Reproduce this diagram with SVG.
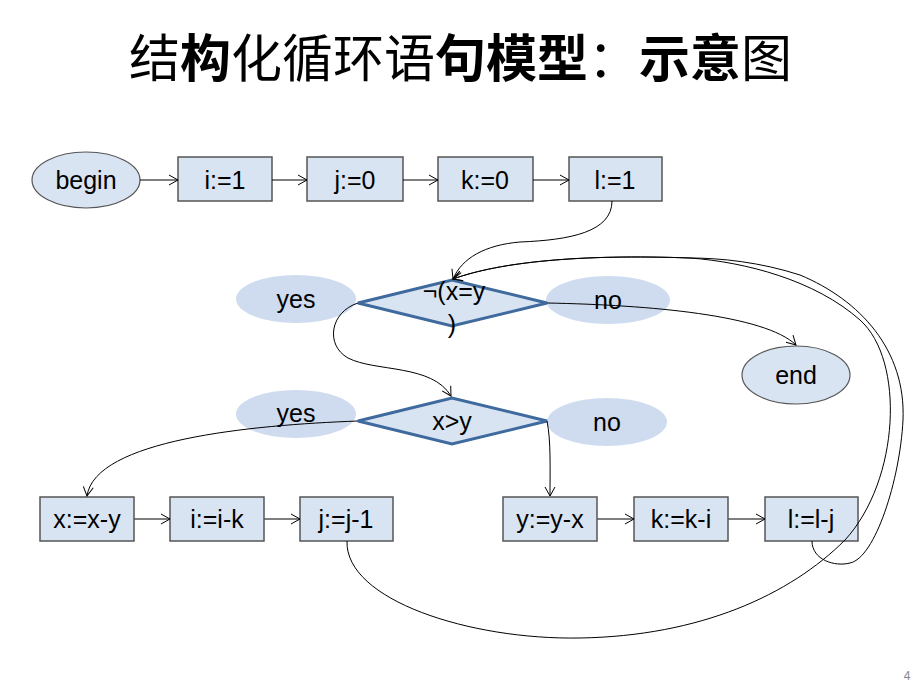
<svg xmlns="http://www.w3.org/2000/svg" width="920" height="690" viewBox="0 0 920 690">
<defs>
<marker id="ah" markerWidth="12" markerHeight="12" refX="10" refY="6" orient="auto" markerUnits="userSpaceOnUse">
<path d="M1,1 L10,6 L1,11" fill="none" stroke="#000" stroke-width="1"/>
</marker>
<style>
.box{fill:#d9e4f2;stroke:#555;stroke-width:1.5}
.el{fill:#d9e4f2;stroke:#555;stroke-width:1.2}
.lbl{fill:#cfdcef;stroke:none}
.dia{fill:#d9e4f2;stroke:#3e6a9e;stroke-width:3;stroke-linejoin:miter}
.t{font-family:"Liberation Sans","Noto Sans",sans-serif;font-size:25px;fill:#000;text-anchor:middle}
.c{fill:none;stroke:#000;stroke-width:1}
.ca{fill:none;stroke:#000;stroke-width:1;marker-end:url(#ah)}
.cg{fill:none;stroke:#555;stroke-width:1.5;marker-end:url(#ah)}
.title{font-family:"Noto Sans CJK SC","Liberation Sans",sans-serif;font-size:51px;fill:#000}
</style>
</defs>
<rect width="920" height="690" fill="#fff"/>
<text class="title" x="129" y="77">结<tspan font-weight="bold">构</tspan>化循环语<tspan font-weight="bold">句模型</tspan>：<tspan font-weight="bold">示意</tspan>图</text>

<g id="yes1"><ellipse class="lbl" cx="296" cy="299" rx="60" ry="24"/><text class="t" x="296" y="308">yes</text></g>
<g id="no1"><ellipse class="lbl" cx="608" cy="300" rx="62" ry="24"/><text class="t" x="608" y="309">no</text></g>
<g id="yes2"><ellipse class="lbl" cx="296" cy="414" rx="60" ry="24"/><text class="t" x="296" y="422">yes</text></g>
<g id="no2"><ellipse class="lbl" cx="607" cy="422" rx="60" ry="24"/><text class="t" x="607" y="431">no</text></g>

<g id="begin"><ellipse class="el" cx="86" cy="180" rx="54" ry="28"/><text class="t" x="86" y="189">begin</text></g>
<g id="n_i1"><rect class="box" x="178" y="157" width="94" height="44"/><text class="t" x="225" y="189">i:=1</text></g>
<g id="n_j0"><rect class="box" x="307" y="157" width="96" height="44"/><text class="t" x="355" y="189">j:=0</text></g>
<g id="n_k0"><rect class="box" x="438" y="157" width="95" height="44"/><text class="t" x="485" y="189">k:=0</text></g>
<g id="n_l1"><rect class="box" x="569" y="157" width="93" height="44"/><text class="t" x="615" y="189">l:=1</text></g>

<g id="cond1"><polygon class="dia" points="358,303 452,280 547,303 452,326"/><text class="t" x="454" y="300">¬(x=y</text><text class="t" x="452" y="333">)</text></g>
<g id="end"><ellipse class="el" cx="796" cy="375" rx="54" ry="29"/><text class="t" x="796" y="384">end</text></g>
<g id="cond2"><polygon class="dia" points="358,421 452,398 547,421 452,444"/><text class="t" x="452" y="430">x&gt;y</text></g>

<g id="n_xxy"><rect class="box" x="40" y="497" width="94" height="44"/><text class="t" x="87" y="528">x:=x-y</text></g>
<g id="n_iik"><rect class="box" x="170" y="497" width="94" height="44"/><text class="t" x="217" y="528">i:=i-k</text></g>
<g id="n_jj1"><rect class="box" x="300" y="497" width="93" height="44"/><text class="t" x="346" y="528">j:=j-1</text></g>
<g id="n_yyx"><rect class="box" x="503" y="497" width="94" height="44"/><text class="t" x="550" y="528">y:=y-x</text></g>
<g id="n_kki"><rect class="box" x="634" y="497" width="94" height="44"/><text class="t" x="681" y="528">k:=k-i</text></g>
<g id="n_llj"><rect class="box" x="765" y="497" width="93" height="44"/><text class="t" x="811" y="528">l:=l-j</text></g>

<g id="connectors">
<path class="ca" d="M140,180 L178,180"/>
<path class="ca" d="M272,180 L307,180"/>
<path class="ca" d="M403,180 L438,180"/>
<path class="ca" d="M533,180 L569,180"/>
<path class="ca" d="M612,201 C612,232 570,240 520,242 C485,245 462,258 453,279"/>
<path class="ca" d="M347,541 C345,600 470,640 580,638 C700,636 790,595 845,540 C900,480 905,360 860,320 C815,280 745,262 690,258 C580,254 500,262 453,279"/>
<path class="ca" d="M812,541 C812,560 835,567 850,563 C875,558 900,480 903,420 C906,350 860,300 800,275 C760,262 720,258 690,258 C580,254 500,262 453,279"/>
<path class="ca" d="M547,303 C650,305 765,315 796,345"/>
<path class="ca" d="M358,303 C330,312 325,345 348,358 C375,372 432,364 451,396"/>
<path class="ca" d="M358,421 C250,425 95,440 87,496"/>
<path class="ca" d="M547,421 C551,440 550,470 550,496"/>
<path class="cg" d="M134,519 L170,519"/>
<path class="cg" d="M264,519 L300,519"/>
<path class="cg" d="M597,519 L634,519"/>
<path class="cg" d="M728,519 L765,519"/>
</g>
<text x="907" y="680" font-family="Liberation Sans,sans-serif" font-size="12" fill="#888" text-anchor="middle">4</text>
</svg>
